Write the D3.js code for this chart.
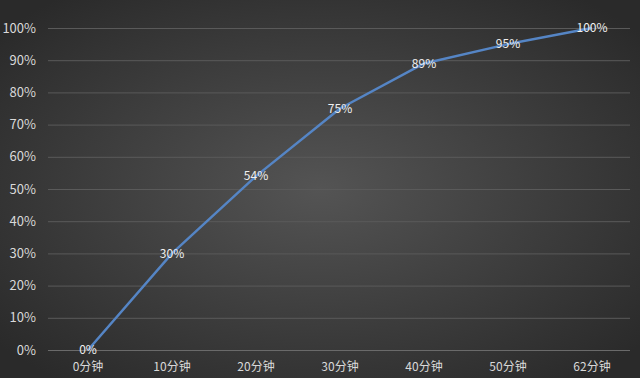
<!DOCTYPE html>
<html>
<head>
<meta charset="utf-8">
<script src="https://cdn.jsdelivr.net/npm/d3@7"></script>
<style>
  body { margin: 0; background: #333; }
</style>
</head>
<body>
<svg width="640" height="378" font-family="'Noto Sans CJK SC', 'Open Sans', sans-serif"></svg>
<script>

var categories = ["0分钟", "10分钟", "20分钟", "30分钟", "40分钟", "50分钟", "62分钟"];
var values = [0, 30, 54, 75, 89, 95, 100];
var yTicks = [0, 10, 20, 30, 40, 50, 60, 70, 80, 90, 100];

var svg = d3.select("svg"),
    width = +svg.attr("width"),
    height = +svg.attr("height");

var defs = svg.append("defs");
var grad = defs.append("radialGradient")
    .attr("id", "bg")
    .attr("cx", "50%").attr("cy", "50%").attr("r", "65%");
grad.append("stop").attr("offset", "0%").attr("stop-color", "#545454");
grad.append("stop").attr("offset", "100%").attr("stop-color", "#2a2a2a");

svg.append("rect")
    .attr("width", width)
    .attr("height", height)
    .attr("fill", "url(#bg)");

var x = d3.scaleBand()
    .domain(categories)
    .range([46, 634]);

var y = d3.scaleLinear()
    .domain([0, 100])
    .range([350, 28]);

// grid
svg.append("g")
  .selectAll("line")
  .data(yTicks)
  .enter().append("line")
    .attr("x1", 48)
    .attr("x2", 630)
    .attr("y1", function(d) { return y(d) + 0.5; })
    .attr("y2", function(d) { return y(d) + 0.5; })
    .attr("stroke", function(d) { return d === 0 ? "#6a6a6a" : "#5a5a5a"; })
    .attr("stroke-width", 1);

// y labels
svg.append("g")
  .selectAll("text")
  .data(yTicks)
  .enter().append("text")
    .attr("x", 36)
    .attr("y", function(d) { return y(d); })
    .attr("dy", "0.36em")
    .attr("text-anchor", "end")
    .attr("font-size", 13)
    .attr("fill", "#d9d9d9")
    .text(function(d) { return d + "%"; });

// x labels
svg.append("g")
  .selectAll("text")
  .data(categories)
  .enter().append("text")
    .attr("x", function(d) { return x(d) + x.bandwidth() / 2; })
    .attr("y", 367)
    .attr("dy", "0.36em")
    .attr("text-anchor", "middle")
    .attr("font-size", 12)
    .attr("fill", "#d9d9d9")
    .text(function(d) { return d; });

var line = d3.line()
    .x(function(d, i) { return x(categories[i]) + x.bandwidth() / 2; })
    .y(function(d) { return y(d); });

svg.append("path")
    .datum(values)
    .attr("fill", "none")
    .attr("stroke", "#5585c5")
    .attr("stroke-width", 2.5)
    .attr("stroke-linejoin", "round")
    .attr("d", line);

// data labels
svg.append("g")
  .selectAll("text")
  .data(values)
  .enter().append("text")
    .attr("x", function(d, i) { return x(categories[i]) + x.bandwidth() / 2; })
    .attr("y", function(d) { return y(d); })
    .attr("dy", "0.36em")
    .attr("text-anchor", "middle")
    .attr("font-size", 12)
    .attr("fill", "#f0f0f0")
    .text(function(d) { return d + "%"; });

</script>
</body>
</html>
